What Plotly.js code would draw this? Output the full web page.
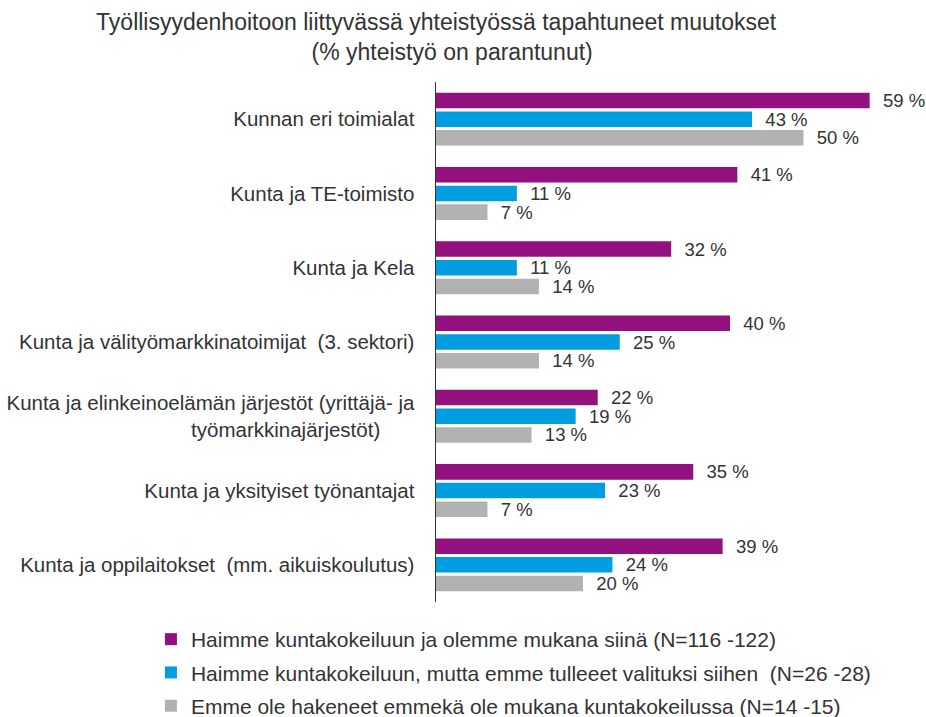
<!DOCTYPE html>
<html>
<head>
<meta charset="utf-8">
<script src="https://cdn.plot.ly/plotly-3.0.1.min.js"></script>
<style>body{margin:0;background:#fff}#chart{width:926px;height:717px}</style>
</head>
<body>
<div id="chart"></div>
<script>
const categories = [
  "Kunnan eri toimialat",
  "Kunta ja TE-toimisto",
  "Kunta ja Kela",
  "Kunta ja välityömarkkinatoimijat  (3. sektori)",
  "Kunta ja elinkeinoelämän järjestöt (yrittäjä- ja<br>työmarkkinajärjestöt)" + "\u00a0".repeat(6),
  "Kunta ja yksityiset työnantajat",
  "Kunta ja oppilaitokset  (mm. aikuiskoulutus)"
];
const seriesNames = [
  "Haimme kuntakokeiluun ja olemme mukana siinä (N=116 -122)",
  "Haimme kuntakokeiluun, mutta emme tulleeet valituksi siihen  (N=26 -28)",
  "Emme ole hakeneet emmekä ole mukana kuntakokeilussa (N=14 -15)"
];
const mukana = [59, 41, 32, 40, 22, 35, 39];
const eiValittu = [43, 11, 11, 25, 19, 23, 24];
const eiHakeneet = [50, 7, 14, 14, 13, 7, 20];
const colors = ["#93117E", "#009EE0", "#B2B2B2"];

const font = "Liberation Sans, Arial, sans-serif";
const values = [mukana, eiValittu, eiHakeneet];
const traces = values.map((v, i) => ({
  type: "bar",
  orientation: "h",
  name: seriesNames[i],
  legendgroup: "g" + i,
  x: v,
  y: categories,
  marker: {color: colors[i]},
  text: v.map(d => "\u00a0\u00a0" + d + " %"),
  textposition: "outside",
  constraintext: "none",
  textfont: {family: font, size: 18.5, color: "#333"},
  cliponaxis: false,
  hoverinfo: "x+name"
}));

const layout = {
  width: 926, height: 717,
  paper_bgcolor: "#fff", plot_bgcolor: "#fff",
  margin: {l: 436, r: 49, t: 82, b: 115, autoexpand: false},
  barmode: "group",
  bargap: 0.245,
  bargroupgap: 0.17,
  title: {
    text: "Työllisyydenhoitoon liittyvässä yhteistyössä tapahtuneet muutokset<br>" + "\u00a0".repeat(5) + "(% yhteistyö on parantunut)",
    font: {family: font, size: 23, color: "#333"},
    x: 0.471, xanchor: "center", xref: "container",
    y: 0.958, yanchor: "top", yref: "container"
  },
  xaxis: {
    range: [0, 60],
    showgrid: false, zeroline: false, showticklabels: false, ticks: "",
    showline: false, fixedrange: true
  },
  yaxis: {
    autorange: "reversed",
    showgrid: false, zeroline: false,
    showline: true, linecolor: "#333", linewidth: 1.5,
    ticks: "", ticklabelstandoff: 16,
    tickfont: {family: font, size: 20.5, color: "#333"},
    fixedrange: true
  },
  showlegend: true,
  legend: {
    orientation: "v",
    traceorder: "grouped",
    tracegroupgap: 3,
    xref: "container", x: 0.163, xanchor: "left",
    yref: "container", y: 0.1367, yanchor: "top",
    itemwidth: 30,
    font: {family: font, size: 21, color: "#333"},
    bgcolor: "rgba(0,0,0,0)"
  }
};
Plotly.newPlot("chart", traces, layout, {displayModeBar: false, staticPlot: true});
</script>
</body>
</html>
